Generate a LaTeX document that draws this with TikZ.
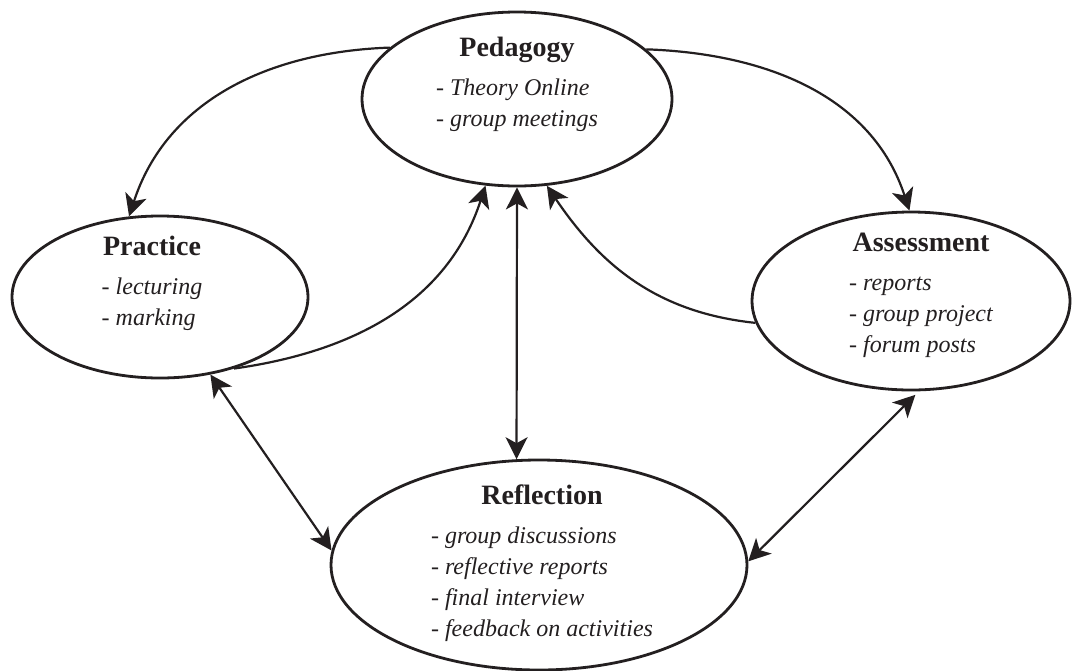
\documentclass[tikz,border=0pt]{standalone}
\usepackage{fontspec}
\setmainfont{Liberation Serif}
\usetikzlibrary{shapes.geometric}
\usetikzlibrary{arrows.meta}
\definecolor{ink}{HTML}{231F20}
\newcommand{\topicbox}[2]{\begin{tabular}{@{}l@{}}\multicolumn{1}{@{}c@{}}{\fontsize{28}{31}\selectfont\bfseries\upshape #1}\\[8pt] #2\end{tabular}}

\begin{document}
\begin{tikzpicture}[x=1pt,y=-1pt,
  bubble/.style={ellipse,draw=ink,line width=2.8pt},
  topic/.style={text=ink,inner sep=0pt,font=\fontsize{24}{31}\selectfont\itshape},
  >={Stealth[length=22pt,width=22pt,inset=6pt]},
  link/.style={draw=ink,line width=2.2pt}]
\useasboundingbox (0,0) rectangle (1073,670);
\node[bubble,minimum width=310pt,minimum height=174pt] (ped) at (517,99) {};
\node[bubble,minimum width=296pt,minimum height=162pt] (prac) at (160,297) {};
\node[bubble,minimum width=318pt,minimum height=178pt] (assess) at (911,301) {};
\node[bubble,minimum width=416pt,minimum height=210pt] (refl) at (539,565) {};
\node[topic] (ped-t) at (517,85) {\topicbox{Pedagogy}{- Theory Online\\ - group meetings}};
\node[topic] (prac-t) at (152,284) {\topicbox{Practice}{- lecturing\\ - marking}};
\node[topic] (assess-t) at (921,296) {\topicbox{Assessment}{- reports\\ - group project\\ - forum posts}};
\node[topic] (refl-t) at (542,564) {\topicbox{Reflection}{- group discussions\\ - reflective reports\\ - final interview\\ - feedback on activities}};
\draw[link,->] (ped.158) to[out=182,in=72] (prac.111);
\draw[link,->] (ped.21) to[out=-2,in=108] (assess.91);
\draw[link,->] (prac.-44) to[out=8,in=-108] (ped.-110);
\draw[link,->] (assess.188) to[out=174,in=-56] (ped.-71);
\draw[link,<->] (ped.south) -- (refl.102);
\draw[link,<->] (prac.-57) -- (refl.176);
\draw[link,<->,shorten <=5pt] (assess.-85) -- (refl.1);
\end{tikzpicture}
\end{document}
